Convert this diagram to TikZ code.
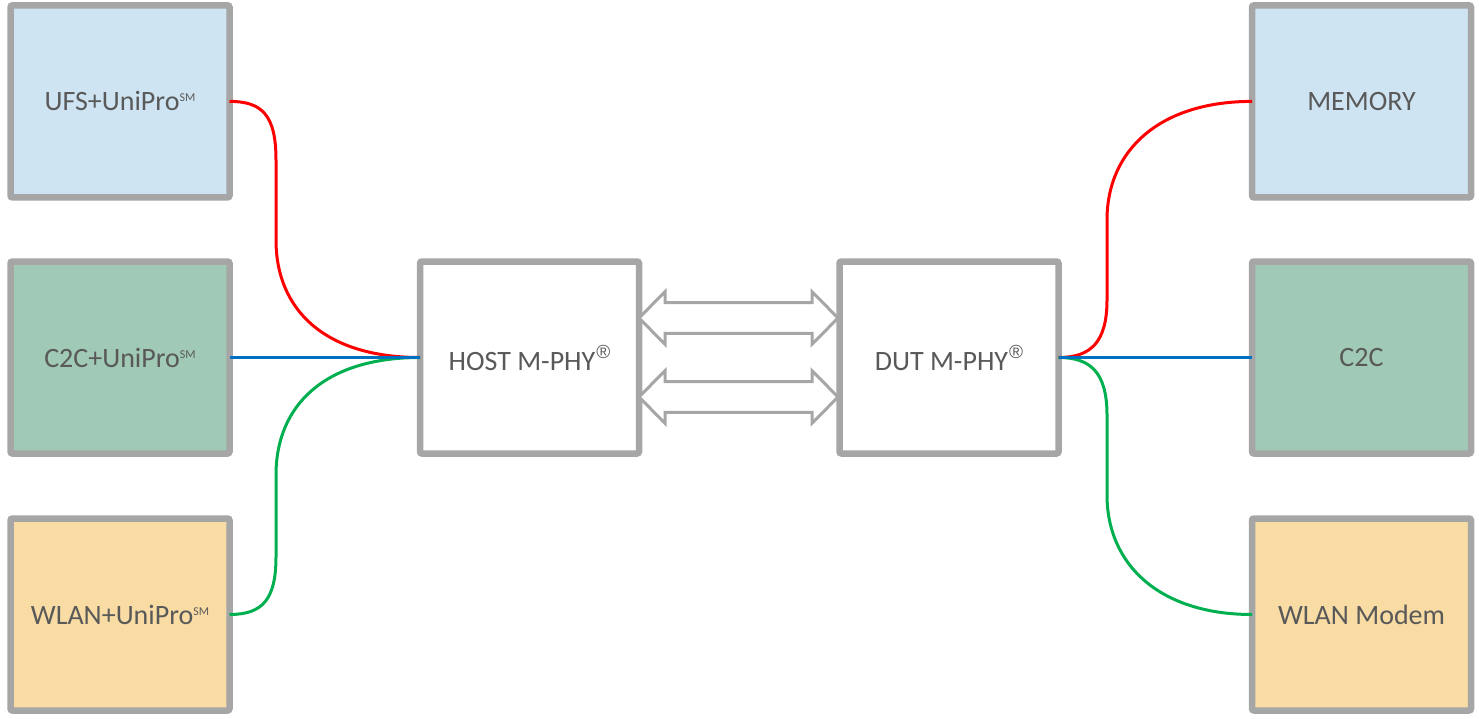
\documentclass[tikz,border=0pt]{standalone}
\usepackage{fontspec}
\setmainfont{Carlito}
\newfontfamily\regfont{Liberation Sans}
\definecolor{boxgray}{HTML}{A6A6A6}
\definecolor{lblue}{HTML}{CFE4F2}
\definecolor{lgreen}{HTML}{A0C9B6}
\definecolor{lyellow}{HTML}{F8DCA4}
\definecolor{txtgray}{HTML}{595959}
\definecolor{cred}{HTML}{FF0000}
\definecolor{cblue}{HTML}{0070C0}
\definecolor{cgreen}{HTML}{00B050}
\newcommand{\smark}{\raisebox{9pt}{\fontsize{12}{12}\selectfont SM}}
\newcommand{\rmark}{\kern1pt\raisebox{12pt}{\regfont\fontsize{19}{19}\selectfont ®}}
\begin{document}
\begin{tikzpicture}[x=1pt,y=-1pt,
  box/.style={draw=boxgray, line width=6.5pt, rounded corners=2pt,
    minimum width=219pt, minimum height=192pt, inner sep=0pt, outer sep=0pt,
    text=txtgray, font=\fontsize{28}{30}\selectfont},
  wire/.style={line width=3pt},
  bigarrow/.style={draw=boxgray, fill=white, line width=3pt, line join=miter}]
\useasboundingbox (0,0) rectangle (1479,719);

% boxes
\node[box, fill=lblue]   (ufs)   at (120,101.4)   {UFS+UniPro\smark};
\node[box, fill=lgreen]  (c2cl)  at (120,357.5)   {C2C+UniPro\smark};
\node[box, fill=lyellow] (wlanl) at (120,614.5)   {WLAN+UniPro\smark};
\node[box, fill=white]   (host)  at (529.5,357.5) {HOST M-PHY\rmark};
\node[box, fill=white]   (dut)   at (949,357.5)   {DUT M-PHY\rmark};
\node[box, fill=lblue]   (mem)   at (1361.5,101.4) {MEMORY};
\node[box, fill=lgreen]  (c2cr)  at (1361.5,357.5) {C2C};
\node[box, fill=lyellow] (modem) at (1361.5,614.5) {WLAN Modem};

% left connectors
\draw[wire, cred] (ufs.east) .. controls (262,101.4) and (276,115) .. (276,160)
  -- (276,240) .. controls (276,310) and (325,357.5) .. (host.west);
\draw[wire, cgreen] (wlanl.east) .. controls (262,614.5) and (276,600) .. (276,557)
  -- (276,475) .. controls (276,405) and (325,357.5) .. (host.west);
\draw[wire, cblue] (c2cl.east) -- (host.west);

% right connectors
\draw[wire, cred] (dut.east) .. controls (1090,357.5) and (1107,343) .. (1107,300)
  -- (1107,220) .. controls (1107,150) and (1160,101.4) .. (mem.west);
\draw[wire, cgreen] (dut.east) .. controls (1090,357.5) and (1107,372) .. (1107,415)
  -- (1107,495) .. controls (1107,565) and (1160,614.5) .. (modem.west);
\draw[wire, cblue] (dut.east) -- (c2cr.west);

% double block arrows between HOST and DUT
\foreach \yc in {318,397} {
  \draw[bigarrow] (639,\yc) -- (665,\yc-26.3) -- (665,\yc-15.3) -- (812,\yc-15.3)
    -- (812,\yc-26.3) -- (838,\yc) -- (812,\yc+26.3) -- (812,\yc+15.3)
    -- (665,\yc+15.3) -- (665,\yc+26.3) -- cycle;
}
\end{tikzpicture}
\end{document}
